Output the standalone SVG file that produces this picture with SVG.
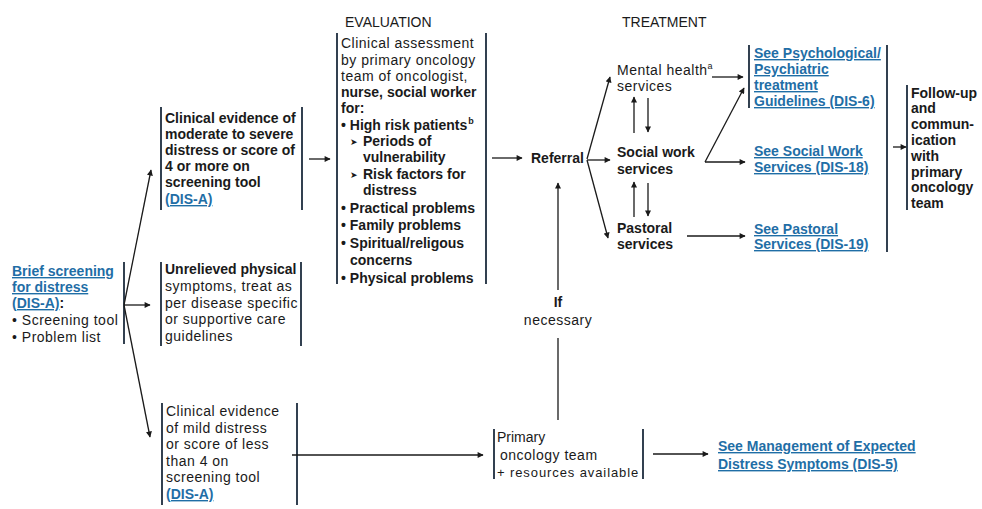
<svg xmlns="http://www.w3.org/2000/svg" width="982" height="509" viewBox="0 0 982 509">
<defs>
<marker id="ah" viewBox="0 0 10 10" refX="9" refY="5" markerWidth="7" markerHeight="6" markerUnits="userSpaceOnUse" orient="auto">
<path d="M0,0 L10,5 L0,10 z" fill="#1a1a1a"/>
</marker>
<style>
text{font-family:"Liberation Sans",Arial,sans-serif;font-size:14px;fill:#1a1a1a}
.b{font-weight:bold}
.r{letter-spacing:0.5px}
.lk{font-weight:bold;fill:#1f6ea6;text-decoration:underline}
.hd{font-size:14px}
.br{stroke:#1c2c3e;stroke-width:1.8;fill:none}
.cn{stroke:#1a1a1a;stroke-width:1.3;fill:none}
.ar{marker-end:url(#ah)}
.sup{font-size:9px}
.tri{font-family:"DejaVu Sans",sans-serif;font-size:9px}
</style>
</defs>
<rect width="982" height="509" fill="#ffffff"/>

<g id="headers">
<text class="hd" x="345" y="27">EVALUATION</text>
<text class="hd" x="622" y="27">TREATMENT</text>
</g>

<g id="screening">
<text class="lk" x="12" y="276">Brief screening</text>
<text class="lk" x="12" y="292">for distress</text>
<text x="12" y="308"><tspan class="lk">(DIS-A)</tspan><tspan class="b">:</tspan></text>
<text class="r" x="12" y="325">• Screening tool</text>
<text class="r" x="12" y="342">• Problem list</text>
<line class="br" x1="124" y1="262" x2="124" y2="344"/>
</g>

<g id="moderate">
<line class="br" x1="161" y1="107" x2="161" y2="210"/>
<line class="br" x1="302" y1="107" x2="302" y2="210"/>
<text class="b" x="165" y="123">Clinical evidence of</text>
<text class="b" x="165" y="139">moderate to severe</text>
<text class="b" x="165" y="155">distress or score of</text>
<text class="b" x="165" y="171">4 or more on</text>
<text class="b" x="165" y="187">screening tool</text>
<text x="165" y="204"><tspan class="lk">(DIS-A)</tspan></text>
</g>

<g id="unrelieved">
<line class="br" x1="161" y1="262" x2="161" y2="346"/>
<line class="br" x1="301" y1="262" x2="301" y2="346"/>
<text class="b" x="165" y="274">Unrelieved physical</text>
<text class="r" x="165" y="291">symptoms, treat as</text>
<text class="r" x="165" y="308">per disease specific</text>
<text class="r" x="165" y="324">or supportive care</text>
<text class="r" x="165" y="341">guidelines</text>
</g>

<g id="mild">
<line class="br" x1="162" y1="403" x2="162" y2="505"/>
<line class="br" x1="297" y1="403" x2="297" y2="505"/>
<text class="r" x="166" y="416">Clinical evidence</text>
<text class="r" x="166" y="433">of mild distress</text>
<text class="r" x="166" y="449">or score of less</text>
<text class="r" x="166" y="466">than 4 on</text>
<text class="r" x="166" y="482">screening tool</text>
<text x="166" y="499"><tspan class="lk">(DIS-A)</tspan></text>
</g>

<g id="evaluation">
<line class="br" x1="337" y1="33" x2="337" y2="284"/>
<line class="br" x1="486" y1="33" x2="486" y2="284"/>
<text class="r" x="341" y="48">Clinical assessment</text>
<text class="r" x="341" y="65">by primary oncology</text>
<text class="r" x="341" y="81">team of oncologist,</text>
<text class="b" x="341" y="97">nurse, social worker</text>
<text class="b" x="341" y="113">for:</text>
<text class="b" x="341" y="130">• High risk patients<tspan class="sup" dx="1" dy="-6">b</tspan></text>
<text class="tri" x="350" y="145">➤</text>
<text class="b" x="363" y="146">Periods of</text>
<text class="b" x="363" y="162">vulnerability</text>
<text class="tri" x="350" y="178">➤</text>
<text class="b" x="363" y="179">Risk factors for</text>
<text class="b" x="363" y="195">distress</text>
<text class="b" x="341" y="213">• Practical problems</text>
<text class="b" x="341" y="230">• Family problems</text>
<text class="b" x="341" y="248">• Spiritual/religous</text>
<text class="b" x="350" y="265">concerns</text>
<text class="b" x="341" y="283">• Physical problems</text>
</g>

<g id="referral">
<text class="b" x="531" y="163">Referral</text>
</g>

<g id="mental">
<text class="r" x="617" y="75">Mental health<tspan class="sup" dx="0" dy="-6">a</tspan></text>
<text class="r" x="617" y="91">services</text>
</g>

<g id="socialwork">
<text class="b" x="617" y="157">Social work</text>
<text class="b" x="617" y="174">services</text>
</g>

<g id="pastoral">
<text class="b" x="617" y="233">Pastoral</text>
<text class="b" x="617" y="249">services</text>
</g>

<g id="psych">
<line class="br" x1="749" y1="45" x2="749" y2="108"/>
<text class="lk" x="754" y="58">See Psychological/</text>
<text class="lk" x="754" y="74">Psychiatric</text>
<text class="lk" x="754" y="90">treatment</text>
<text class="lk" x="754" y="106">Guidelines (DIS-6)</text>
</g>

<g id="socialdis">
<text class="lk" x="754" y="156">See Social Work</text>
<text class="lk" x="754" y="172">Services (DIS-18)</text>
</g>

<g id="pastoraldis">
<text class="lk" x="754" y="234">See Pastoral</text>
<text class="lk" x="754" y="249">Services (DIS-19)</text>
<line class="br" x1="887" y1="45" x2="887" y2="252"/>
</g>

<g id="followup">
<line class="br" x1="907" y1="85" x2="907" y2="210"/>
<text class="b" x="911" y="98">Follow-up</text>
<text class="b" x="911" y="113">and</text>
<text class="b" x="911" y="129">commun-</text>
<text class="b" x="911" y="145">ication</text>
<text class="b" x="911" y="161">with</text>
<text class="b" x="911" y="177">primary</text>
<text class="b" x="911" y="192">oncology</text>
<text class="b" x="911" y="208">team</text>
</g>

<g id="ifnecessary">
<text class="b" x="558" y="307" text-anchor="middle">If</text>
<text class="r" x="558" y="325" text-anchor="middle">necessary</text>
</g>

<g id="primary">
<line class="br" x1="494" y1="429" x2="494" y2="479"/>
<line class="br" x1="643" y1="429" x2="643" y2="479"/>
<text x="497" y="442">Primary</text>
<text class="r" x="500" y="460">oncology team</text>
<text x="497" y="477" style="font-size:13px;letter-spacing:0.9px">+ resources available</text>
</g>

<g id="management">
<text class="lk" x="718" y="451">See Management of Expected</text>
<text class="lk" x="718" y="469">Distress Symptoms (DIS-5)</text>
</g>

<g id="connectors">
<path class="cn ar" d="M124,305 L151,170"/>
<path class="cn ar" d="M124,305 L150,305"/>
<path class="cn ar" d="M124,305 L150,437"/>
<path class="cn ar" d="M309,159 L330,159"/>
<path class="cn ar" d="M492,158 L522,158"/>
<path class="cn ar" d="M587,159 L610,77"/>
<path class="cn ar" d="M587,160 L610,160"/>
<path class="cn ar" d="M587,160 L608,238"/>
<path class="cn ar" d="M634,133 L634,97"/>
<path class="cn ar" d="M648,98 L648,132"/>
<path class="cn ar" d="M634,217 L634,182"/>
<path class="cn ar" d="M648,183 L648,216"/>
<path class="cn ar" d="M712,77 L743,77"/>
<path class="cn ar" d="M705,162 L744,88"/>
<path class="cn ar" d="M705,162 L745,162"/>
<path class="cn ar" d="M687,236 L745,236"/>
<path class="cn ar" d="M893,147 L906,147"/>
<path class="cn ar" d="M292,455 L483,455"/>
<path class="cn" d="M558,420 L558,338"/>
<path class="cn ar" d="M558,290 L558,183"/>
<path class="cn ar" d="M653,454 L708,454"/>
</g>
</svg>
